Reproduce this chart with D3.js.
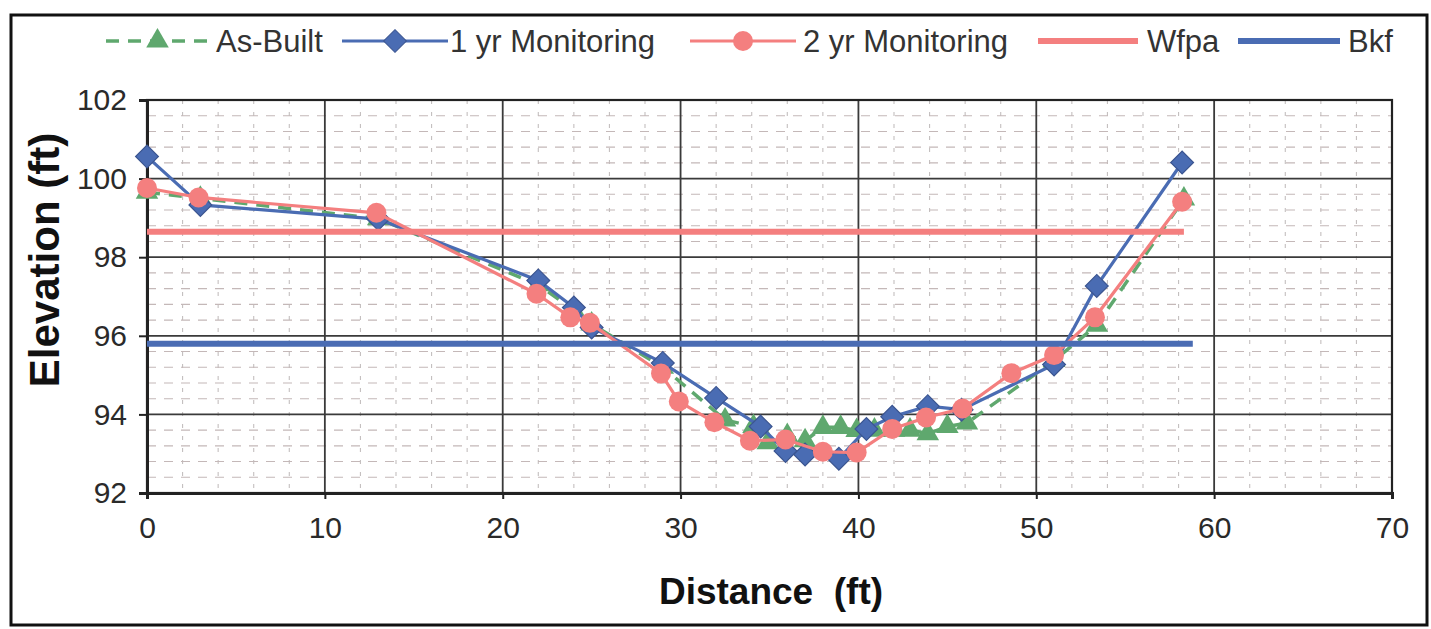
<!DOCTYPE html>
<html><head><meta charset="utf-8">
<script src="https://cdn.jsdelivr.net/npm/d3@7"></script>
<style>body{margin:0;background:#fff;} svg{display:block;font-family:"Liberation Sans",Arial,sans-serif;}</style>
</head><body>
<svg id="chart" width="1431" height="629"></svg>
<script>
// ---- data ----
const asBuiltX = [0,3,13,22,24,25,29,32.5,34.1,34.9,36,37,38,39,39.9,40.9,42,42.9,43.9,45,46.1,51,53.4,58.3];
const asBuiltY = [99.65,99.5,98.98,97.3,96.65,96.3,95.2,93.86,93.69,93.28,93.46,93.33,93.67,93.67,93.59,93.6,93.6,93.6,93.51,93.69,93.78,95.37,96.27,99.48];
const yr1X = [0,3,13,22,24,25,29,32,34.5,35.9,37,38.9,40.45,41.9,43.9,45.8,51,53.4,58.2];
const yr1Y = [100.56,99.33,98.97,97.41,96.72,96.21,95.31,94.42,93.69,93.07,92.98,92.87,93.63,93.94,94.21,94.12,95.27,97.27,100.41];
const yr2X = [0,2.9,12.9,21.9,23.8,24.9,28.9,29.9,31.9,33.9,35.9,38,39.9,41.9,43.8,45.85,48.6,51,53.3,58.2];
const yr2Y = [99.76,99.52,99.13,97.07,96.47,96.33,95.04,94.33,93.8,93.33,93.36,93.05,93.03,93.63,93.92,94.15,95.05,95.51,96.47,99.41];
const wfpaX = [0,58.3];
const wfpaY = [98.65,98.65];
const bkfX = [0,58.8];
const bkfY = [95.8,95.8];
const seriesNames = ["As-Built","1 yr Monitoring","2 yr Monitoring","Wfpa","Bkf"];
const xTicks = [0,10,20,30,40,50,60,70];
const yTicks = [92,94,96,98,100,102];
const xTitle = "Distance  (ft)";
const yTitle = "Elevation (ft)";

// ---- layout ----
const svg = d3.select("#chart");
const L = 147, R = 1392, T = 100, B = 493;
const x = d3.scaleLinear().domain([0,70]).range([L,R]);
const y = d3.scaleLinear().domain([92,102]).range([B,T]);
const GREEN = "#5fa86e", BLUE = "#4a6cb3", PINK = "#f47f7f", TXT = "#2a2a2a";

svg.append("rect").attr("width",1431).attr("height",629).attr("fill","#fff");
// outer frame
svg.append("rect").attr("x",11).attr("y",15).attr("width",1416).attr("height",610)
  .attr("fill","none").attr("stroke","#111").attr("stroke-width",3);

// minor grid
const g = svg.append("g");
const minorX = d3.range(0,70.01,2).filter(v => v % 10 !== 0);
const minorY = d3.range(92,102.001,0.4).map(v=>+v.toFixed(1)).filter(v => Math.abs(v/2 - Math.round(v/2))>1e-6);
g.selectAll(".mx").data(minorX).join("line")
  .attr("x1",d=>x(d)).attr("x2",d=>x(d)).attr("y1",T).attr("y2",B)
  .attr("stroke","#c4bfbf").attr("stroke-width",1.1).attr("stroke-dasharray","4,8");
g.selectAll(".my").data(minorY).join("line")
  .attr("x1",L).attr("x2",R).attr("y1",d=>y(d)).attr("y2",d=>y(d))
  .attr("stroke","#c4b8b8").attr("stroke-width",1.1).attr("stroke-dasharray","9,8");
// major grid
g.selectAll(".Mx").data(xTicks).join("line")
  .attr("x1",d=>x(d)).attr("x2",d=>x(d)).attr("y1",T).attr("y2",B)
  .attr("stroke","#3a3a3a").attr("stroke-width",1.8);
g.selectAll(".My").data(yTicks).join("line")
  .attr("x1",L).attr("x2",R).attr("y1",d=>y(d)).attr("y2",d=>y(d))
  .attr("stroke","#3a3a3a").attr("stroke-width",1.8);
svg.append("rect").attr("x",L).attr("y",T).attr("width",R-L).attr("height",B-T)
  .attr("fill","none").attr("stroke","#222").attr("stroke-width",2.2);

// axes
const xAxis = svg.append("g").attr("transform",`translate(0,${B})`)
  .call(d3.axisBottom(x).tickValues(xTicks).tickSize(6).tickPadding(18).tickFormat(d3.format("d")));
const yAxis = svg.append("g").attr("transform",`translate(${L},0)`)
  .call(d3.axisLeft(y).tickValues(yTicks).tickSize(8).tickPadding(12).tickFormat(d3.format("d")));
[xAxis,yAxis].forEach(a=>{
  a.select(".domain").attr("stroke","#222").attr("stroke-width",3);
  a.selectAll(".tick line").attr("stroke","#222").attr("stroke-width",2);
  a.selectAll("text").attr("font-family","'Liberation Sans',Arial,sans-serif")
    .attr("font-size",30).attr("fill",TXT);
});

// titles
svg.append("text").attr("x",771).attr("y",604).attr("text-anchor","middle")
  .attr("font-size",37).attr("font-weight","bold").attr("fill","#111").style("white-space","pre")
  .text(xTitle);
svg.append("text").attr("transform","translate(59,260) rotate(-90)").attr("text-anchor","middle")
  .attr("font-size",42).attr("font-weight","bold").attr("fill","#111").text(yTitle);

// series
const line = d3.line().x(d=>x(d[0])).y(d=>y(d[1]));
const zip = (a,b)=>a.map((v,i)=>[v,b[i]]);
const ab = zip(asBuiltX,asBuiltY), s1 = zip(yr1X,yr1Y), s2 = zip(yr2X,yr2Y);
const triPath = d3.symbol(d3.symbolTriangle,220)();
const diaPath = d3.symbol(d3.symbolSquare,260)();

svg.append("path").datum(ab).attr("d",line).attr("fill","none").attr("stroke",GREEN)
  .attr("stroke-width",3.5).attr("stroke-dasharray","13,9");
svg.append("g").selectAll("path").data(ab).join("path").attr("d",triPath)
  .attr("transform",d=>`translate(${x(d[0])},${y(d[1])})`).attr("fill",GREEN);

svg.append("path").datum(s1).attr("d",line).attr("fill","none").attr("stroke",BLUE).attr("stroke-width",3.2);
svg.append("g").selectAll("path").data(s1).join("path").attr("d",diaPath)
  .attr("transform",d=>`translate(${x(d[0])},${y(d[1])}) rotate(45)`).attr("fill",BLUE)
  .attr("stroke","#3b5590").attr("stroke-width",1.2);

svg.append("path").datum(s2).attr("d",line).attr("fill","none").attr("stroke",PINK).attr("stroke-width",3.2);
svg.append("g").selectAll("circle").data(s2).join("circle")
  .attr("cx",d=>x(d[0])).attr("cy",d=>y(d[1])).attr("r",10).attr("fill",PINK);

svg.append("path").datum(zip(wfpaX,wfpaY)).attr("d",line).attr("stroke",PINK).attr("stroke-width",6).attr("fill","none");
svg.append("path").datum(zip(bkfX,bkfY)).attr("d",line).attr("stroke",BLUE).attr("stroke-width",6).attr("fill","none");

// legend
const leg = svg.append("g");
const LY = 41;
const items = [
  {x1:106,x2:209,tx:216,color:GREEN,dash:"13,9",w:3.5,mark:"tri"},
  {x1:342,x2:448,tx:450,color:BLUE,dash:null,w:3.2,mark:"dia"},
  {x1:690,x2:796,tx:803,color:PINK,dash:null,w:3.2,mark:"cir"},
  {x1:1038,x2:1138,tx:1147,color:PINK,dash:null,w:6,mark:null},
  {x1:1238,x2:1340,tx:1348,color:BLUE,dash:null,w:6,mark:null}
];
items.forEach((it,i)=>{
  leg.append("line").attr("x1",it.x1).attr("x2",it.x2).attr("y1",LY).attr("y2",LY)
    .attr("stroke",it.color).attr("stroke-width",it.w).attr("stroke-dasharray",it.dash);
  const cx=(it.x1+it.x2)/2;
  if(it.mark==="tri") leg.append("path").attr("d",triPath).attr("transform",`translate(${cx},${LY})`).attr("fill",it.color);
  if(it.mark==="dia") leg.append("path").attr("d",diaPath).attr("transform",`translate(${cx},${LY}) rotate(45)`).attr("fill",it.color).attr("stroke","#3b5590");
  if(it.mark==="cir") leg.append("circle").attr("cx",cx).attr("cy",LY).attr("r",10).attr("fill",it.color);
  leg.append("text").attr("x",it.tx).attr("y",LY+11).attr("font-size",31).attr("fill","#333").text(seriesNames[i]);
});
</script>
</body></html>
